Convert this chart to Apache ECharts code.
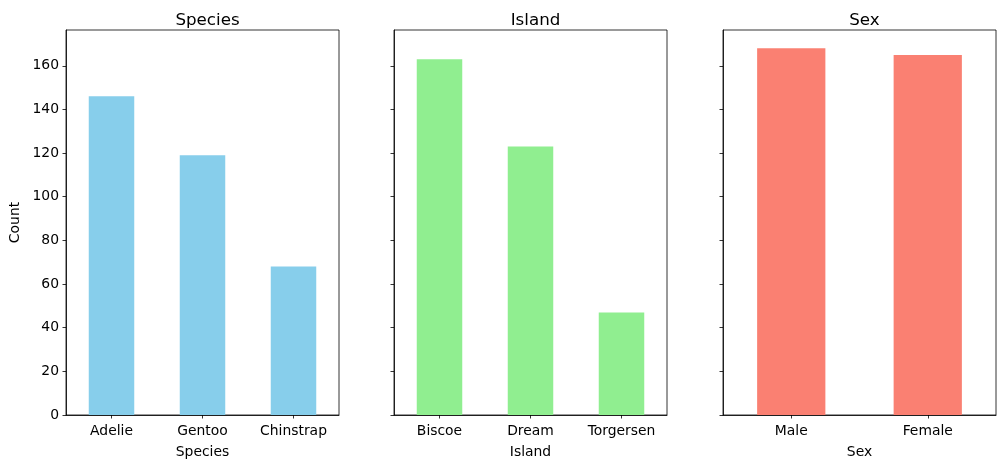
<!DOCTYPE html>
<html>
<head>
<meta charset="utf-8">
<script src="https://cdn.jsdelivr.net/npm/echarts@6/dist/echarts.min.js"></script>
<style>
  html, body { margin: 0; padding: 0; background: #fff; }
  #chart { width: 1005px; height: 468px; }
</style>
</head>
<body>
<div id="chart"></div>
<script>
// penguin counts per category
const speciesNames = ["Adelie", "Gentoo", "Chinstrap"];
const speciesCounts = [146, 119, 68];
const islandNames = ["Biscoe", "Dream", "Torgersen"];
const islandCounts = [163, 123, 47];
const sexNames = ["Male", "Female"];
const sexCounts = [168, 165];
const yTicks = [0, 20, 40, 60, 80, 100, 120, 140, 160];

const panels = [
  { title: "Species", cats: speciesNames, vals: speciesCounts, color: "#87CEEB", left: 66 },
  { title: "Island", cats: islandNames, vals: islandCounts, color: "#90EE90", left: 394 },
  { title: "Sex", cats: sexNames, vals: sexCounts, color: "#FA8072", left: 723 }
];

const font = "DejaVu Sans";
const axisLine = { show: true, lineStyle: { color: "#000", width: 0.8 } };
const axisTick = { show: true, length: 3.5, lineStyle: { color: "#000", width: 0.8 } };

const chart = echarts.init(document.getElementById("chart"));

chart.setOption({
  animation: false,
  textStyle: { fontFamily: font },
  title: panels.map((p) => ({
    text: p.title,
    left: p.left + 136.5,
    textAlign: "center",
    top: 7,
    textStyle: { fontFamily: font, fontSize: 16.7, fontWeight: "normal", color: "#000" }
  })),
  grid: panels.map((p) => ({
    left: p.left,
    width: 273,
    top: 30,
    bottom: 53,
    show: true,
    borderColor: "#000",
    borderWidth: 0.8,
    backgroundColor: "#fff"
  })),
  xAxis: panels.map((p, i) => ({
    type: "category",
    gridIndex: i,
    data: p.cats,
    name: p.title,
    nameLocation: "middle",
    nameGap: 30,
    nameTextStyle: { fontFamily: font, fontSize: 13.9, color: "#000" },
    axisLine: axisLine,
    axisTick: Object.assign({ alignWithLabel: true }, axisTick),
    axisLabel: { margin: 9, fontFamily: font, fontSize: 13.9, color: "#000" }
  })),
  yAxis: panels.map((p, i) => ({
    type: "value",
    gridIndex: i,
    min: 0,
    max: 176.4,
    name: i === 0 ? "Count" : "",
    nameLocation: "middle",
    nameGap: 44,
    nameTextStyle: { fontFamily: font, fontSize: 13.9, color: "#000" },
    axisLine: axisLine,
    axisTick: Object.assign({ customValues: yTicks }, axisTick),
    axisLabel: {
      show: i === 0,
      customValues: yTicks,
      margin: 7,
      fontFamily: font,
      fontSize: 13.9,
      color: "#000"
    },
    splitLine: { show: false }
  })),
  series: panels.map((p, i) => ({
    type: "bar",
    xAxisIndex: i,
    yAxisIndex: i,
    data: p.vals,
    barWidth: "50%",
    itemStyle: { color: p.color }
  }))
});
</script>
</body>
</html>
